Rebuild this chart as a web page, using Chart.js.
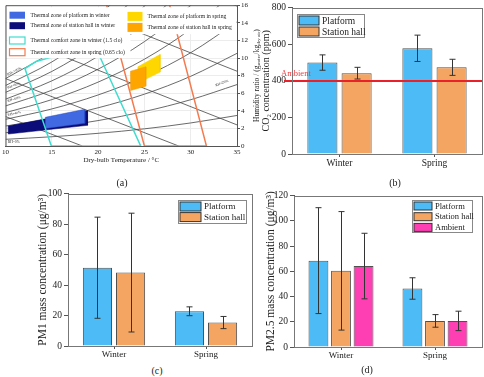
<!DOCTYPE html>
<html>
<head>
<meta charset="utf-8">
<title>Station thermal zones, CO2 and PM</title>
<script src="https://cdn.jsdelivr.net/npm/chart.js@4.4.1/dist/chart.umd.min.js"></script>
<style>
  body { margin: 0; width: 484px; height: 377px; background: #fff; position: relative; overflow: hidden; }
  canvas { position: absolute; }
  .tag { position: absolute; font: 10px 'Liberation Serif', serif; color: #222; transform: translate(-50%, -50%); }
</style>
</head>
<body>
<canvas id="psy" width="264" height="166" style="left:0;top:0"></canvas>
<canvas id="co2" width="228" height="172" style="left:256px;top:0"></canvas>
<canvas id="pm1" width="230" height="176" style="left:30px;top:186px"></canvas>
<canvas id="pm25" width="226" height="176" style="left:258px;top:188px"></canvas>
<div class="tag" style="left:122px;top:182px">(a)</div>
<div class="tag" style="left:395px;top:182px">(b)</div>
<div class="tag" style="left:157px;top:370px">(c)</div>
<div class="tag" style="left:367px;top:369px">(d)</div>
<script>
// ---- (a) psychrometric chart, humidity ratio in g/kg ----
const dryBulb = [10, 15, 20, 25, 30, 35]
const rhLevels = [10, 20, 30, 40, 50, 60, 70, 80, 90, 100]
const rhCurves = [
  [0.76, 1.05, 1.44, 1.95, 2.62, 3.47],
  [1.51, 2.10, 2.89, 3.92, 5.26, 6.98],
  [2.27, 3.15, 4.34, 5.89, 7.92, 10.53],
  [3.03, 4.21, 5.80, 7.87, 10.60, 14.11],
  [3.79, 5.27, 7.26, 9.86, 13.29, 17.73],
  [4.55, 6.34, 8.73, 11.86, 15.99, 21.39],
  [5.32, 7.40, 10.20, 13.88, 18.71, 25.10],
  [6.09, 8.47, 11.68, 15.90, 21.45, 28.80],
  [6.87, 9.55, 13.17, 17.90, 24.20, 32.60],
  [7.66, 10.69, 14.75, 20.16, 27.33, 36.80]
]
// wet-bulb lines, [T, W] end points
const wetBulbLines = [
  [[10, 3.35], [18.3, 0]],
  [[10, 7.66], [28.7, 0]],
  [[15, 10.69], [35, 2.4]],
  [[20, 14.75], [35, 8.5]],
  [[25, 20.16], [35, 15.9]]
]
const winterComfort = [[14.95, 0], [12.1, 8.8], [13.3, 9.6], [19.6, 11.5], [24.6, 0], [14.95, 0]]
const springComfort = [[20.8, 16.5], [25.0, 0], [31.7, 0], [27.6, 16.5]]
const platformWinter = [[14.3, 2.0], [14.3, 3.26], [18.57, 4.17], [18.57, 2.58], [14.3, 2.0]]
const hallWinter = [[10.3, 1.36], [10.3, 2.27], [18.86, 4.0], [18.86, 2.35], [10.3, 1.36]]
const platformSpring = [[24.3, 7.15], [24.3, 9.0], [26.7, 10.4], [26.7, 8.4], [24.3, 7.15]]
const hallSpring = [[23.5, 6.3], [23.5, 8.5], [25.15, 9.0], [25.15, 6.8], [23.5, 6.3]]

// ---- bar charts ----
const seasons = ['Winter', 'Spring']
const co2Platform = [500, 578]
const co2PlatformErr = [42, 72]
const co2Hall = [442, 474]
const co2HallErr = [32, 44]
const co2Ambient = 400
const pm1Platform = [51.4, 22.8]
const pm1PlatformErr = [33.2, 2.9]
const pm1Hall = [48.2, 15.4]
const pm1HallErr = [39, 4]
const pm25Platform = [68.5, 46.4]
const pm25PlatformErr = [42, 8.5]
const pm25Hall = [60.4, 20.7]
const pm25HallErr = [47, 5]
const pm25Ambient = [64.2, 20.7]
const pm25AmbientErr = [26, 7.7]

const SERIF = "'Liberation Serif', 'Times New Roman', serif"
Chart.defaults.font.family = SERIF
Chart.defaults.color = '#222'
Chart.defaults.animation = false
Chart.defaults.events = []
Chart.defaults.plugins.legend.display = false
Chart.defaults.plugins.tooltip.enabled = false

const BLUE = '#4dbcf6'
const SAND = '#f4a562'
const PINK = '#fe3fb3'
const AXIS = '#555'

const pts = arr => arr.map(([x, y]) => ({ x, y }))

// ---------- (a) ----------
const rhTags = [
  { text: 'RH=100%', x: 10.25, y: 8.0, angle: -26 },
  { text: 'RH=80%', x: 10.25, y: 6.5, angle: -21 },
  { text: 'RH=60%', x: 10.25, y: 5.0, angle: -17 },
  { text: 'RH=40%', x: 10.25, y: 3.4, angle: -12 },
  { text: 'RH=0%', x: 10.25, y: 0.35, angle: 0 },
  { text: 'RH=20%', x: 32.7, y: 6.8, angle: -19 }
]

const zoneSets = [
  { label: 'Thermal comfort zone in spring (0.65 clo)', data: pts(springComfort), borderColor: '#f47b4f', borderWidth: 1.5, slot: [0, 3], kind: 'line' },
  { label: 'Thermal comfort zone in winter (1.5 clo)', data: pts(winterComfort), borderColor: '#3fdccf', borderWidth: 1.5, slot: [0, 2], kind: 'line' },
  { label: 'Thermal zone of station hall in spring', data: pts(hallSpring), borderColor: '#f39a00', backgroundColor: '#ffa500', borderWidth: 0.5, fill: 'shape', slot: [1, 1], kind: 'fill' },
  { label: 'Thermal zone of platform in spring', data: pts(platformSpring), borderColor: '#f5cc00', backgroundColor: '#ffd700', borderWidth: 0.5, fill: 'shape', slot: [1, 0], kind: 'fill' },
  { label: 'Thermal zone of platform in winter', data: pts(platformWinter), borderColor: '#2a4fc8', backgroundColor: '#4169e1', borderWidth: 0.5, fill: 'shape', slot: [0, 0], kind: 'fill' },
  { label: 'Thermal zone of station hall in winter', data: pts(hallWinter), borderColor: '#000060', backgroundColor: '#0b0b7a', borderWidth: 0.5, fill: 'shape', slot: [0, 1], kind: 'fill' }
]
const wbSets = wetBulbLines.map(l => ({ label: 'wb', data: pts(l), borderColor: '#444', borderWidth: 0.8 }))
const rhSets = rhCurves.map((c, i) => ({
  label: 'RH ' + rhLevels[i] + '%',
  data: dryBulb.map((t, j) => ({ x: t, y: c[j] })),
  borderColor: '#444', borderWidth: 0.8, cubicInterpolationMode: 'monotone'
}))

const psyDecor = {
  id: 'psyDecor',
  afterDatasetsDraw(chart) {
    const { ctx, chartArea: a, scales: { x, y } } = chart
    ctx.save()
    ctx.strokeStyle = AXIS
    ctx.lineWidth = 1
    ctx.beginPath()
    ctx.moveTo(a.left + 0.5, a.bottom)
    ctx.lineTo(a.left + 0.5, a.top + 0.5)
    ctx.lineTo(a.right, a.top + 0.5)
    ctx.stroke()

    ctx.fillStyle = '#222'
    ctx.font = '3.6px ' + SERIF
    rhTags.forEach(t => {
      ctx.save()
      ctx.translate(x.getPixelForValue(t.x), y.getPixelForValue(t.y))
      ctx.rotate(t.angle * Math.PI / 180)
      ctx.fillText(t.text, 0, 0)
      ctx.restore()
    })

    // legend backgrounds
    ctx.fillStyle = '#fff'
    ctx.fillRect(a.left + 2, a.top + 2, 123, 51)
    ctx.fillRect(a.left + 119, a.top + 2, 112, 27)

    const cols = [{ sx: a.left + 4, sw: 15.5, sh: 7, tx: a.left + 25, rows: [10, 20.5, 35.3, 47] },
                  { sx: a.left + 122, sw: 15, sh: 9, tx: a.left + 142, rows: [11.2, 22.2] }]
    ctx.font = '5.6px ' + SERIF
    ctx.textBaseline = 'middle'
    chart.data.datasets.forEach(ds => {
      if (!ds.slot) return
      const c = cols[ds.slot[0]]
      const cy = a.top + c.rows[ds.slot[1]]
      if (ds.kind === 'fill') {
        ctx.fillStyle = ds.backgroundColor
        ctx.fillRect(c.sx, cy - c.sh / 2, c.sw, c.sh)
      } else {
        ctx.strokeStyle = ds.borderColor
        ctx.lineWidth = 1.2
        ctx.strokeRect(c.sx, cy - c.sh / 2, c.sw, c.sh)
      }
      ctx.fillStyle = '#222'
      ctx.fillText(ds.label, c.tx, cy)
    })
    ctx.restore()
  },
  afterDraw(chart) {
    // right-axis title, reading bottom to top with subscripts
    const { ctx, chartArea: a } = chart
    const parts = [['Humidity ratio / (g', 7.5, 0], ['water', 5, 1.5], ['/kg', 7.5, 0], ['dry air', 5, 1.5], [')', 7.5, 0]]
    ctx.save()
    let total = 0
    parts.forEach(p => { ctx.font = p[1] + 'px ' + SERIF; total += ctx.measureText(p[0]).width })
    ctx.translate(257, (a.top + a.bottom) / 2)
    ctx.rotate(-Math.PI / 2)
    ctx.fillStyle = '#222'
    ctx.textBaseline = 'middle'
    let cx = -total / 2
    parts.forEach(p => {
      ctx.font = p[1] + 'px ' + SERIF
      ctx.fillText(p[0], cx, p[2])
      cx += ctx.measureText(p[0]).width
    })
    ctx.restore()
  }
}

new Chart(document.getElementById('psy'), {
  type: 'scatter',
  data: { datasets: [...zoneSets, ...wbSets, ...rhSets] },
  options: {
    responsive: false,
    layout: { padding: { top: 1 } },
    elements: { point: { radius: 0 }, line: { tension: 0 } },
    datasets: { scatter: { showLine: true, fill: false } },
    scales: {
      x: {
        type: 'linear', min: 10, max: 35,
        ticks: { stepSize: 5, font: { size: 7 }, padding: 2 },
        grid: { color: '#ececec', drawTicks: false },
        border: { color: AXIS },
        title: { display: true, text: 'Dry-bulb Temperature / °C', font: { size: 7 }, padding: { top: 0, bottom: 2 } },
        afterFit(s) { s.height = 20 }
      },
      y: {
        type: 'linear', position: 'right', min: 0, max: 16,
        ticks: { stepSize: 2, font: { size: 7 }, padding: 1 },
        grid: { color: '#ececec', tickColor: AXIS, tickLength: 3 },
        border: { color: AXIS },
        afterFit(s) { s.width = 27 }
      }
    }
  },
  plugins: [psyDecor]
})

// ---------- bar helpers ----------
const errorBars = {
  id: 'errorBars',
  afterDatasetsDraw(chart) {
    const { ctx } = chart
    const y = chart.scales.y
    ctx.save()
    ctx.strokeStyle = '#333'
    ctx.lineWidth = 1
    chart.data.datasets.forEach((ds, i) => {
      chart.getDatasetMeta(i).data.forEach((bar, j) => {
        const hi = y.getPixelForValue(ds.data[j] + ds.errors[j])
        const lo = y.getPixelForValue(ds.data[j] - ds.errors[j])
        const bx = Math.round(bar.x) + 0.5
        ctx.beginPath()
        ctx.moveTo(bx, hi); ctx.lineTo(bx, lo)
        ctx.moveTo(bx - 3, hi); ctx.lineTo(bx + 3, hi)
        ctx.moveTo(bx - 3, lo); ctx.lineTo(bx + 3, lo)
        ctx.stroke()
      })
    })
    ctx.restore()
  }
}

const frame = {
  id: 'frame',
  afterDatasetsDraw(chart) {
    const { ctx, chartArea: a } = chart
    ctx.save()
    ctx.strokeStyle = '#777'
    ctx.lineWidth = 1
    ctx.strokeRect(Math.round(a.left) + 0.5, Math.round(a.top) + 0.5, Math.round(a.right - a.left), Math.round(a.bottom - a.top))
    ctx.restore()
  }
}

function boxLegend(o) {
  return {
    id: 'boxLegend',
    afterDraw(chart) {
      const { ctx, chartArea: a } = chart
      const x0 = Math.round(a.left + o.x) + 0.5
      const y0 = Math.round(a.top + o.y) + 0.5
      ctx.save()
      ctx.fillStyle = '#fff'
      ctx.fillRect(x0, y0, o.w, o.h)
      ctx.strokeStyle = '#888'
      ctx.lineWidth = 1
      ctx.strokeRect(x0, y0, o.w, o.h)
      ctx.font = o.font + 'px ' + SERIF
      ctx.textBaseline = 'middle'
      chart.data.datasets.forEach((ds, i) => {
        const sy = y0 + o.pad + i * o.row
        ctx.fillStyle = ds.backgroundColor
        ctx.fillRect(x0 + o.pad, sy, o.sw, o.sh)
        ctx.strokeStyle = '#333'
        ctx.strokeRect(x0 + o.pad, sy, o.sw, o.sh)
        ctx.fillStyle = '#222'
        ctx.fillText(ds.label, x0 + o.pad + o.sw + 3, sy + o.sh / 2 + 0.5)
      })
      ctx.restore()
    }
  }
}

function barOptions(o) {
  return {
    responsive: false,
    layout: { padding: { top: o.top, right: o.right } },
    datasets: { bar: { categoryPercentage: 0.72, barPercentage: 0.88, borderWidth: 1, borderColor: '#505050' } },
    scales: {
      x: {
        offset: true,
        grid: { offset: false, drawOnChartArea: false, color: AXIS, tickLength: 3 },
        border: { color: AXIS },
        ticks: { font: { size: o.xFont }, padding: o.xPad },
        afterFit(s) { s.height = o.xH }
      },
      y: {
        min: 0, max: o.max,
        ticks: { stepSize: o.step, font: { size: o.yFont }, padding: 2 },
        grid: { drawOnChartArea: false, color: AXIS, tickLength: 4 },
        border: { color: AXIS },
        title: { display: true, text: o.title, font: { size: o.titleFont }, padding: { top: o.titlePad, bottom: 0 } },
        afterFit(s) { s.width = o.yW }
      }
    }
  }
}

// ---------- (b) CO2 ----------
const ambientLine = {
  id: 'ambientLine',
  afterDatasetsDraw(chart) {
    const { ctx, chartArea: a } = chart
    const py = Math.round(chart.scales.y.getPixelForValue(co2Ambient))
    ctx.save()
    ctx.strokeStyle = '#ea2129'
    ctx.lineWidth = 2
    ctx.beginPath()
    ctx.moveTo(a.left - 8, py); ctx.lineTo(a.right, py)
    ctx.stroke()
    ctx.fillStyle = '#ef3b3f'
    ctx.font = '8.5px ' + SERIF
    ctx.fillText('Ambient', a.left - 11, py - 5)
    ctx.restore()
  }
}

new Chart(document.getElementById('co2'), {
  type: 'bar',
  data: {
    labels: seasons,
    datasets: [
      { label: 'Platform', data: co2Platform, errors: co2PlatformErr, backgroundColor: BLUE },
      { label: 'Station hall', data: co2Hall, errors: co2HallErr, backgroundColor: SAND }
    ]
  },
  options: barOptions({ top: 0, right: 2, max: 800, step: 200, xFont: 9.5, yFont: 9.5, xPad: 1, xH: 18, yW: 36,
    title: 'CO₂ concentration (ppm)', titleFont: 10, titlePad: 4 }),
  plugins: [errorBars, ambientLine, frame, boxLegend({ x: 4.7, y: 6, w: 67, h: 23, sw: 20, sh: 9, row: 11, pad: 1.5, font: 9.5 })]
})

// ---------- (c) PM1 ----------
new Chart(document.getElementById('pm1'), {
  type: 'bar',
  data: {
    labels: seasons,
    datasets: [
      { label: 'Platform', data: pm1Platform, errors: pm1PlatformErr, backgroundColor: BLUE },
      { label: 'Station hall', data: pm1Hall, errors: pm1HallErr, backgroundColor: SAND }
    ]
  },
  options: barOptions({ top: 2, right: 8, max: 100, step: 20, xFont: 9, yFont: 9.5, xPad: 0, xH: 16, yW: 38,
    title: 'PM1 mass concentration (μg/m³)', titleFont: 11.5, titlePad: 6 }),
  plugins: [errorBars, frame, boxLegend({ x: 110, y: 6, w: 68, h: 23, sw: 21, sh: 9, row: 10.6, pad: 1.5, font: 9 })]
})

// ---------- (d) PM2.5 ----------
new Chart(document.getElementById('pm25'), {
  type: 'bar',
  data: {
    labels: seasons,
    datasets: [
      { label: 'Platform', data: pm25Platform, errors: pm25PlatformErr, backgroundColor: BLUE },
      { label: 'Station hall', data: pm25Hall, errors: pm25HallErr, backgroundColor: SAND },
      { label: 'Ambient', data: pm25Ambient, errors: pm25AmbientErr, backgroundColor: PINK }
    ]
  },
  options: barOptions({ top: 4, right: 2, max: 120, step: 20, xFont: 9, yFont: 9.5, xPad: 0, xH: 17, yW: 36,
    title: 'PM2.5 mass concentration (μg/m³)', titleFont: 11.5, titlePad: 6 }),
  plugins: [errorBars, frame, boxLegend({ x: 117.7, y: 4.3, w: 60, h: 32, sw: 18, sh: 8, row: 10.7, pad: 1.5, font: 8.5 })]
})
</script>
</body>
</html>
